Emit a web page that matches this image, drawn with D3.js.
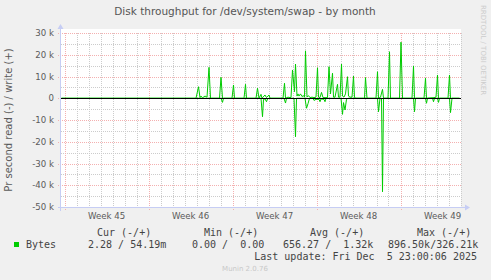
<!DOCTYPE html>
<html>
<head>
<meta charset="utf-8">
<script src="https://cdn.jsdelivr.net/npm/d3@7"></script>
<style>
  body { margin: 0; background: #f0f0f0; }
  svg { display: block; }
  text { font-family: "DejaVu Sans", sans-serif; }
  .mono { font-family: "DejaVu Sans Mono", monospace; white-space: pre; }
</style>
</head>
<body>
<div id="chart"></div>
<script>
// hours since Mon Nov 3 2025 00:00 (week 45), and bytes per second
var writeHours = [-6, 263, 268, 271, 273, 276, 281, 285, 289, 292, 310, 313, 316, 335, 338, 340, 359, 362, 364,
  383, 386, 389, 393, 395, 401, 404, 407, 409, 411, 437, 440, 442, 447, 451, 453, 456, 460, 462, 465, 467, 469,
  472, 475, 478, 480, 482, 485, 488, 491, 495, 499, 503, 506, 508, 511, 514, 517, 526, 529, 532, 536, 538, 541,
  546, 548, 551, 554, 556, 559, 562, 566, 568, 571, 575, 578, 580, 583, 600, 602, 605, 623, 626, 628, 632, 636,
  638, 647, 650, 652, 670, 673, 676, 695, 698, 700, 719, 722, 724, 739, 743, 746, 748, 767, 770, 772, 790];
var writeValues = [0, 0, 5300, 300, 1000, 200, 1000, 500, 14200, 0, 0, 9600, 0, 0, 6100, 0, 0, 6400, 0,
  0, 4600, 0, 1800, 0, 1500, 300, 1000, 1500, 0, 0, 6900, 0, 500, 300, 400, 13000, 3000, 15700, 1000, 2000, 1000,
  2000, 800, 1200, 500, 21800, 500, 1200, 300, 500, 300, 500, 14000, 500, 300, 2700, 300, 300, 14500, 2000, 11500, 500, 500,
  6400, 500, 500, 15700, 1000, 500, 2000, 9900, 1000, 500, 500, 10200, 300, 0, 0, 9500, 0, 0, 12200, 0, 500, 4100,
  0, 0, 21400, 0, 0, 25800, 0, 0, 14800, 0, 0, 9200, 0, 300, 500, 10700, 0, 0, 10700, 0, 0];

var readHours = [-6, 313, 316, 318, 393, 396, 398, 401, 404, 406, 409, 439, 442, 444, 459, 462, 464, 481, 484,
  487, 490, 497, 499, 503, 509, 511, 513, 519, 521, 523, 553, 556, 558, 561, 564, 567, 626, 628, 631, 634, 636,
  638, 698, 700, 702, 722, 724, 726, 736, 738, 740, 746, 748, 750, 770, 772, 775, 790];
var readValues = [0, 0, 1900, 0, 0, 8500, 500, 300, 1600, 300, 0, 0, 2200, 0, 0, 17700, 0, 0, 4600,
  2500, 0, 0, 1000, 500, 500, 1600, 300, 500, 1600, 0, 0, 7400, 2000, 5400, 500, 0, 0, 6200, 0, 0, 43000,
  0, 0, 6200, 0, 0, 2300, 0, 0, 1600, 0, 0, 1900, 0, 0, 6600, 0, 0];

var yMajorTicks = [-50000, -40000, -30000, -20000, -10000, 0, 10000, 20000, 30000];
var legendHeaders = ["Cur (-/+)", "Min (-/+)", "Avg (-/+)", "Max (-/+)"];
var legendValues = ["2.28 / 54.19m", "0.00 /  0.00", "656.27 /  1.32k", "896.50k/326.21k"];
var seriesName = "Bytes";
var lastUpdate = "Last update: Fri Dec  5 23:00:06 2025";

var W = 491, H = 280;
var plotLeft = 61, plotRight = 461, plotTop = 33, plotBottom = 207;

var svg = d3.select("#chart").append("svg")
  .attr("width", W)
  .attr("height", H);

var week45 = new Date(2025, 10, 3);
var hr = function(h) { return d3.timeHour.offset(week45, h); };

var x = d3.scaleTime()
  .domain([hr(-7), hr(793)])
  .range([plotLeft, plotRight]);

var y = d3.scaleLinear()
  .domain([-50000, 30000])
  .range([plotBottom, plotTop]);

// canvas
svg.append("rect")
  .attr("x", plotLeft).attr("y", 29)
  .attr("width", plotRight - plotLeft).attr("height", plotBottom - 29)
  .attr("fill", "#fff");

var grid = svg.append("g").attr("shape-rendering", "crispEdges");

// minor grid
var days = d3.timeDay.range(x.domain()[0], x.domain()[1]);
grid.selectAll(".vmin")
  .data(days.filter(function(d) { return d.getDay() !== 1; }))
  .enter().append("line")
    .attr("x1", function(d) { return Math.round(x(d)) + 0.5; })
    .attr("x2", function(d) { return Math.round(x(d)) + 0.5; })
    .attr("y1", plotTop).attr("y2", plotBottom)
    .attr("stroke", "#cccccc")
    .attr("stroke-dasharray", "1,1");

grid.selectAll(".hmin")
  .data(d3.range(-45000, 30000, 10000))
  .enter().append("line")
    .attr("x1", plotLeft).attr("x2", plotRight)
    .attr("y1", function(d) { return Math.round(y(d)) + 0.5; })
    .attr("y2", function(d) { return Math.round(y(d)) + 0.5; })
    .attr("stroke", "#cccccc")
    .attr("stroke-dasharray", "1,1");

// major grid
var mondays = d3.timeMonday.range(x.domain()[0], x.domain()[1]);
grid.selectAll(".vmaj")
  .data(mondays)
  .enter().append("line")
    .attr("x1", function(d) { return Math.round(x(d)) + 0.5; })
    .attr("x2", function(d) { return Math.round(x(d)) + 0.5; })
    .attr("y1", plotTop).attr("y2", plotBottom + 3)
    .attr("stroke", "#f4b0b0")
    .attr("stroke-dasharray", "1,1");

grid.selectAll(".hmaj")
  .data(yMajorTicks)
  .enter().append("line")
    .attr("x1", plotLeft - 3).attr("x2", plotRight)
    .attr("y1", function(d) { return Math.round(y(d)) + 0.5; })
    .attr("y2", function(d) { return Math.round(y(d)) + 0.5; })
    .attr("stroke", "#f4b0b0")
    .attr("stroke-dasharray", "1,1");

// series
var line = d3.line()
  .x(function(d) { return x(d[0]); })
  .y(function(d) { return y(d[1]); });

var writeData = writeHours.map(function(h, i) { return [hr(h), writeValues[i]]; });
var readData = readHours.map(function(h, i) { return [hr(h), -readValues[i]]; });

svg.append("path")
  .datum(readData)
  .attr("d", line)
  .attr("fill", "none")
  .attr("stroke", "#00cc00")
  .attr("stroke-width", 1);

svg.append("path")
  .datum(writeData)
  .attr("d", line)
  .attr("fill", "none")
  .attr("stroke", "#00cc00")
  .attr("stroke-width", 1);

// zero line
svg.append("line")
  .attr("x1", plotLeft).attr("x2", plotRight)
  .attr("y1", Math.round(y(0)) + 0.5).attr("y2", Math.round(y(0)) + 0.5)
  .attr("stroke", "#000")
  .attr("shape-rendering", "crispEdges");

// axes
var axisColor = "#c6cdf4";
svg.append("line")
  .attr("x1", plotLeft - 0.5).attr("x2", plotLeft - 0.5)
  .attr("y1", plotBottom + 4).attr("y2", 28)
  .attr("stroke", axisColor)
  .attr("shape-rendering", "crispEdges");
svg.append("path")
  .attr("d", "M" + (plotLeft - 3.5) + ",29 L" + (plotLeft - 0.5) + ",24 L" + (plotLeft + 2.5) + ",29 Z")
  .attr("fill", axisColor);

svg.append("line")
  .attr("x1", plotLeft - 3).attr("x2", plotRight + 5)
  .attr("y1", plotBottom + 0.5).attr("y2", plotBottom + 0.5)
  .attr("stroke", axisColor)
  .attr("shape-rendering", "crispEdges");
svg.append("path")
  .attr("d", "M" + (plotRight + 4) + "," + (plotBottom - 2.5) + " L" + (plotRight + 9) + "," + (plotBottom + 0.5) + " L" + (plotRight + 4) + "," + (plotBottom + 3.5) + " Z")
  .attr("fill", axisColor);

// y labels
svg.append("g")
  .selectAll("text")
  .data(yMajorTicks)
  .enter().append("text")
    .attr("x", 54)
    .attr("y", function(d) { return y(d); })
    .attr("dy", "0.36em")
    .attr("text-anchor", "end")
    .attr("font-size", 8.6)
    .attr("fill", "#5a5a5a")
    .text(function(d) { return d === 0 ? "0" : (d / 1000) + " k"; });

// x labels
var fmtWeek = d3.timeFormat("%V");
svg.append("g")
  .selectAll("text")
  .data(mondays)
  .enter().append("text")
    .attr("x", function(d) { return x(d3.timeHour.offset(d, 84)); })
    .attr("y", 219)
    .attr("text-anchor", "middle")
    .attr("font-size", 8.6)
    .attr("fill", "#5a5a5a")
    .text(function(d) { return "Week " + +fmtWeek(d); });

// titles
svg.append("text")
  .attr("x", 245)
  .attr("y", 14.5)
  .attr("text-anchor", "middle")
  .attr("font-size", 10.5)
  .attr("fill", "#555")
  .text("Disk throughput for /dev/system/swap - by month");

svg.append("text")
  .attr("transform", "translate(12," + ((plotTop + plotBottom) / 2) + ") rotate(-90)")
  .attr("text-anchor", "middle")
  .attr("font-size", 10)
  .attr("fill", "#5a5a5a")
  .text("Pr second read (-) / write (+)");

svg.append("text")
  .attr("transform", "translate(481,5) rotate(90)")
  .attr("font-size", 7)
  .attr("fill", "#cccccc")
  .text("RRDTOOL / TOBI OETIKER");

// legend
var colX = [97, 204, 310, 417];
var valX = [88, 192, 283, 388];
svg.append("g")
  .selectAll("text")
  .data(legendHeaders)
  .enter().append("text")
    .attr("class", "mono")
    .attr("x", function(d, i) { return colX[i]; })
    .attr("y", 235.5)
    .attr("font-size", 10)
    .attr("fill", "#444")
    .text(function(d) { return d; });

svg.append("rect")
  .attr("x", 14).attr("y", 242)
  .attr("width", 5).attr("height", 5)
  .attr("fill", "#00cc00");

svg.append("text")
  .attr("class", "mono")
  .attr("x", 26).attr("y", 247.5)
  .attr("font-size", 10)
  .attr("fill", "#444")
  .text(seriesName);

svg.append("g")
  .selectAll("text")
  .data(legendValues)
  .enter().append("text")
    .attr("class", "mono")
    .attr("x", function(d, i) { return valX[i]; })
    .attr("y", 247.5)
    .attr("font-size", 10)
    .attr("fill", "#444")
    .text(function(d) { return d; });

svg.append("text")
  .attr("class", "mono")
  .attr("x", 477).attr("y", 259.5)
  .attr("text-anchor", "end")
  .attr("font-size", 10)
  .attr("fill", "#444")
  .text(lastUpdate);

svg.append("text")
  .attr("x", 245).attr("y", 271)
  .attr("text-anchor", "middle")
  .attr("font-size", 7)
  .attr("fill", "#c8c8c8")
  .text("Munin 2.0.76");
</script>
</body>
</html>
